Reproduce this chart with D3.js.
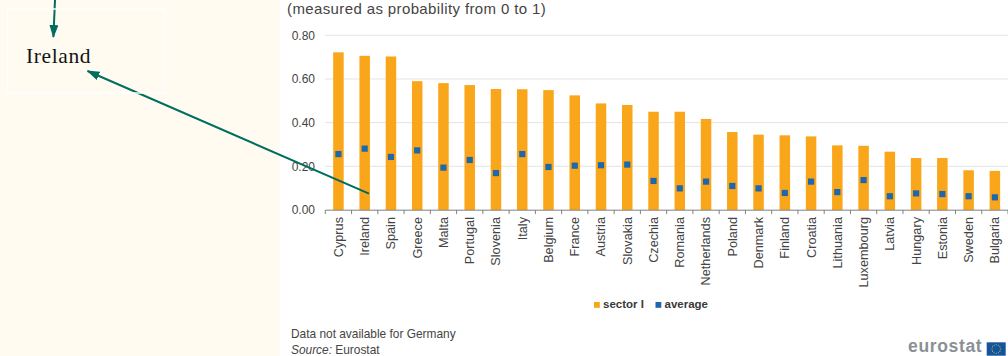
<!DOCTYPE html>
<html>
<head>
<meta charset="utf-8">
<script src="https://cdn.jsdelivr.net/npm/d3@7/dist/d3.min.js"></script>
<style>
html,body{margin:0;padding:0;background:#fff;overflow:hidden}
svg{display:block}
text{font-family:"Liberation Sans",Arial,sans-serif}
</style>
</head>
<body>
<svg id="chart" width="1008" height="356"></svg>
<script>
const countries = ["Cyprus","Ireland","Spain","Greece","Malta","Portugal","Slovenia","Italy","Belgium","France","Austria","Slovakia","Czechia","Romania","Netherlands","Poland","Denmark","Finland","Croatia","Lithuania","Luxembourg","Latvia","Hungary","Estonia","Sweden","Bulgaria"];
const sectorI = [0.722,0.706,0.703,0.590,0.581,0.572,0.554,0.553,0.549,0.525,0.488,0.481,0.450,0.450,0.417,0.357,0.345,0.342,0.337,0.296,0.294,0.267,0.238,0.238,0.182,0.179];
const average = [0.256,0.281,0.243,0.273,0.194,0.229,0.169,0.256,0.197,0.203,0.205,0.208,0.133,0.099,0.130,0.110,0.099,0.078,0.130,0.082,0.137,0.063,0.076,0.073,0.063,0.058];
const yTicks = [0,0.2,0.4,0.6,0.8];
const legendItems = [["sector I","#faa61a"],["average","#1f67ad"]];

const svg = d3.select("#chart");
const teal = "#006d5e";
const ink = "#444444";

// Side panel behind the call-out label
svg.append("rect").attr("x",0).attr("y",0).attr("width",280).attr("height",356).attr("fill","#fffbf0");

const x = d3.scaleBand().domain(countries).range([325.3,1008]).paddingInner(0.6).paddingOuter(0.3);
const y = d3.scaleLinear().domain([0,0.8]).range([210,35.3]);

// Horizontal grid
svg.append("g").selectAll("line").data(yTicks.slice(1)).join("line")
  .attr("x1",325).attr("x2",1008)
  .attr("y1",d=>y(d)).attr("y2",d=>y(d))
  .attr("stroke","#e4e4e4").attr("stroke-width",1);

// Bars for sector I
svg.append("g").selectAll("rect").data(countries).join("rect")
  .attr("x",d=>x(d)).attr("width",x.bandwidth())
  .attr("y",(d,i)=>y(sectorI[i])).attr("height",(d,i)=>y(0)-y(sectorI[i]))
  .attr("fill",legendItems[0][1]);

// Square markers for the average
svg.append("g").selectAll("rect").data(countries).join("rect")
  .attr("x",d=>x(d)+x.bandwidth()/2-3.1).attr("width",6.2)
  .attr("y",(d,i)=>y(average[i])-3.1).attr("height",6.2)
  .attr("fill",legendItems[1][1]);

// Value axis
const yAxis = d3.axisLeft(y).tickValues(yTicks).tickFormat(d3.format(".2f")).tickSize(0).tickPadding(10);
const gy = svg.append("g").attr("transform","translate(325,0)").call(yAxis);
gy.select(".domain").remove();
gy.selectAll("text").attr("font-size",12).attr("fill",ink).style("font-family",'"Liberation Sans",Arial,sans-serif');

// Category axis with rotated labels
const xAxis = d3.axisBottom(x).tickSize(0).tickPadding(0);
const gx = svg.append("g").attr("transform","translate(0,210)").call(xAxis);
gx.select(".domain").remove();
gx.selectAll("text")
  .attr("transform","rotate(-90)")
  .attr("x",-7).attr("y",0).attr("dy","0.35em")
  .attr("text-anchor","end")
  .attr("font-size",12.7).attr("fill",ink)
  .style("font-family",'"Liberation Sans",Arial,sans-serif');

// Baseline and tick marks between the categories
svg.append("line").attr("x1",325.3).attr("x2",1008).attr("y1",210.2).attr("y2",210.2).attr("stroke","#808080");
svg.append("g").selectAll("line").data(d3.range(countries.length+1)).join("line")
  .attr("x1",i=>325.3+i*x.step()).attr("x2",i=>325.3+i*x.step())
  .attr("y1",210).attr("y2",214).attr("stroke","#808080");

// Subtitle
svg.append("text").attr("x",287).attr("y",13.7).attr("font-size",15).attr("letter-spacing",0.38).attr("fill",ink)
  .text("(measured as probability from 0 to 1)");

// Legend
const legendX = [594,655.5];
const legend = svg.append("g").selectAll("g").data(legendItems).join("g")
  .attr("transform",(d,i)=>`translate(${legendX[i]},302)`);
legend.append("rect").attr("width",5.8).attr("height",5.8).attr("fill",d=>d[1]);
legend.append("text").attr("x",9).attr("y",6.3).attr("font-size",11.5).attr("font-weight","bold").attr("fill","#3a3a3a").text(d=>d[0]);

// Footnotes
svg.append("text").attr("x",291).attr("y",338).attr("font-size",11.9).attr("fill",ink).text("Data not available for Germany");
const src = svg.append("text").attr("x",291).attr("y",354).attr("font-size",11.9).attr("fill",ink);
src.append("tspan").attr("font-style","italic").text("Source:");
src.append("tspan").text(" Eurostat");

// Eurostat wordmark and flag
svg.append("text").attr("x",908).attr("y",352.3).attr("font-size",17.5).attr("font-weight","bold").attr("fill","#8a9095").attr("letter-spacing",0.65).text("eurostat");
svg.append("rect").attr("x",986.7).attr("y",342.3).attr("width",19).attr("height",13.4).attr("fill","#14549c");
const stars = d3.range(12).map(i=>i*Math.PI/6);
svg.append("g").selectAll("circle").data(stars).join("circle")
  .attr("cx",a=>996.2+4.3*Math.cos(a)).attr("cy",a=>349+4.3*Math.sin(a)).attr("r",0.55).attr("fill","#d8cf4a");

// Call-out arrows
const defs = svg.append("defs");
defs.append("marker").attr("id","head").attr("viewBox","0 0 13 9").attr("refX",12).attr("refY",4.5)
  .attr("markerWidth",13).attr("markerHeight",9).attr("markerUnits","userSpaceOnUse").attr("orient","auto")
  .append("path").attr("d","M0,0L13,4.5L0,9Z").attr("fill",teal);
const arrow = d3.line();
const arrows = [[[369,193.7],[87.5,71]],[[55,0],[53.4,37]]];
svg.append("g").selectAll("path").data(arrows).join("path")
  .attr("d",arrow).attr("fill","none").attr("stroke",teal).attr("stroke-width",2).attr("marker-end","url(#head)");

// Call-out label with its pale outline
svg.append("rect").attr("x",7.5).attr("y",9).attr("width",157).attr("height",84).attr("fill","none").attr("stroke","#fff").attr("stroke-width",1.4);
svg.append("text").attr("x",26).attr("y",63.3).attr("font-size",21.5).attr("letter-spacing",0.6).attr("fill","#141414")
  .style("font-family",'"Liberation Serif",serif').text("Ireland");
</script>
</body>
</html>
